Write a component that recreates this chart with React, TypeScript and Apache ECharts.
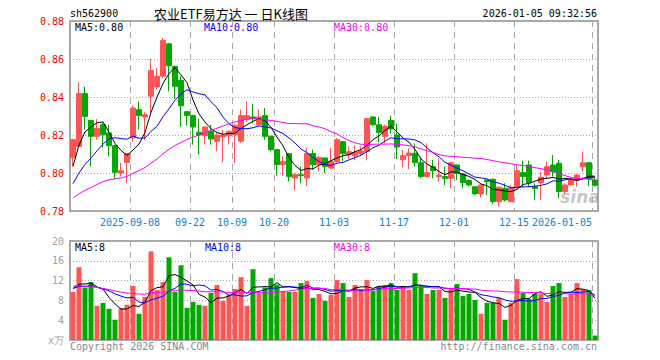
import React, { useEffect, useRef } from 'react';
import * as echarts from 'echarts';

const dates = [
  '2025-08-25','2025-08-26','2025-08-27','2025-08-28','2025-08-29',
  '2025-09-01','2025-09-02','2025-09-03','2025-09-04','2025-09-05',
  '2025-09-08','2025-09-09','2025-09-10','2025-09-11','2025-09-12',
  '2025-09-15','2025-09-16','2025-09-17','2025-09-18','2025-09-19',
  '2025-09-22','2025-09-23','2025-09-24','2025-09-25','2025-09-26',
  '2025-09-29','2025-09-30','2025-10-09','2025-10-10','2025-10-13',
  '2025-10-14','2025-10-15','2025-10-16','2025-10-17','2025-10-20',
  '2025-10-21','2025-10-22','2025-10-23','2025-10-24','2025-10-27',
  '2025-10-28','2025-10-29','2025-10-30','2025-10-31','2025-11-03',
  '2025-11-04','2025-11-05','2025-11-06','2025-11-07','2025-11-10',
  '2025-11-11','2025-11-12','2025-11-13','2025-11-14','2025-11-17',
  '2025-11-18','2025-11-19','2025-11-20','2025-11-21','2025-11-24',
  '2025-11-25','2025-11-26','2025-11-27','2025-11-28','2025-12-01',
  '2025-12-02','2025-12-03','2025-12-04','2025-12-05','2025-12-08',
  '2025-12-09','2025-12-10','2025-12-11','2025-12-12','2025-12-15',
  '2025-12-16','2025-12-17','2025-12-18','2025-12-19','2025-12-22',
  '2025-12-23','2025-12-24','2025-12-25','2025-12-26','2025-12-29',
  '2025-12-30','2025-12-31','2026-01-05'
];

const opens = [
  0.808,0.814,0.8418,0.8277,0.8193,0.8254,0.8211,0.8144,0.800,0.8056,
  0.8184,0.8333,0.8295,0.8404,0.8453,0.8509,0.868,0.8561,0.8488,0.8323,
  0.8302,0.8214,0.8196,0.8219,0.8167,0.8189,0.8196,0.8202,0.8167,0.8284,
  0.8295,0.8254,0.8302,0.8193,0.8123,0.8044,0.8102,0.7974,0.7991,0.7974,
  0.8102,0.8044,0.8079,0.8026,0.8061,0.8165,0.8096,0.8091,0.8102,0.8114,
  0.8295,0.8254,0.8193,0.8277,0.820,0.807,0.8091,0.8104,0.8054,0.7981,
  0.8033,0.7981,0.7981,0.7972,0.8042,0.7995,0.796,0.7928,0.789,0.7963,
  0.7967,0.7849,0.7919,0.7849,0.7925,0.8002,0.8042,0.7928,0.7949,0.7989,
  0.8042,0.8051,0.7902,0.7937,0.7963,0.8033,0.8054,0.7963
];

const closes = [
  0.8175,0.8418,0.8298,0.8193,0.8235,0.8202,0.8144,0.8004,0.8012,0.8102,
  0.8342,0.8302,0.8307,0.854,0.8509,0.8698,0.8565,0.8456,0.8354,0.8302,
  0.8242,0.820,0.8242,0.8179,0.820,0.820,0.8219,0.8249,0.8302,0.8302,
  0.8288,0.8295,0.8193,0.8123,0.8044,0.8061,0.7982,0.7991,0.7986,0.8102,
  0.8044,0.8082,0.8035,0.8061,0.8175,0.8102,0.8112,0.8109,0.8116,0.8286,
  0.8254,0.8214,0.8246,0.8232,0.8137,0.8091,0.8105,0.8054,0.7981,0.8002,
  0.8012,0.7989,0.7972,0.8054,0.7998,0.7949,0.7937,0.789,0.7937,0.7954,
  0.7849,0.7925,0.7858,0.7925,0.8012,0.7981,0.7949,0.7919,0.7977,0.8033,
  0.8007,0.7902,0.7937,0.7963,0.7989,0.8054,0.7972,0.7935
];

const lows = [
  0.8035,0.8135,0.8228,0.8035,0.8175,0.8132,0.8088,0.7968,0.7982,0.7947,
  0.8167,0.8228,0.8175,0.8307,0.844,0.850,0.843,0.839,0.8242,0.8249,
  0.8149,0.8096,0.8149,0.8149,0.8114,0.8056,0.8149,0.8053,0.8158,0.827,
  0.8263,0.8246,0.8175,0.8114,0.7986,0.7986,0.7956,0.7909,0.7947,0.7933,
  0.8018,0.8009,0.800,0.8021,0.8056,0.8061,0.8074,0.8067,0.8091,0.8067,
  0.8246,0.8161,0.8158,0.8207,0.8074,0.803,0.802,0.8033,0.7972,0.7977,
  0.7972,0.7954,0.7937,0.7919,0.7963,0.7919,0.7928,0.7884,0.7872,0.7884,
  0.7837,0.7823,0.785,0.7849,0.7919,0.7925,0.7925,0.7858,0.7858,0.7972,
  0.7981,0.7867,0.789,0.7932,0.7928,0.8007,0.7932,0.7928
];

const highs = [
  0.818,0.8477,0.8453,0.828,0.8284,0.8263,0.8254,0.8149,0.8053,0.8105,
  0.8354,0.8377,0.832,0.860,0.8553,0.871,0.8685,0.8565,0.851,0.8323,
  0.8307,0.8284,0.8246,0.8253,0.821,0.8228,0.8225,0.826,0.8333,0.8377,
  0.8365,0.8333,0.8342,0.8195,0.8125,0.8088,0.8105,0.800,0.8035,0.8132,
  0.8123,0.8091,0.8082,0.8132,0.8184,0.8168,0.814,0.8144,0.814,0.829,
  0.8298,0.8295,0.8254,0.8302,0.826,0.812,0.813,0.8156,0.8086,0.8156,
  0.8068,0.8077,0.8033,0.806,0.8044,0.7998,0.7967,0.793,0.7939,0.7967,
  0.797,0.7928,0.7946,0.7937,0.8042,0.8065,0.8065,0.7946,0.8007,0.806,
  0.8095,0.8068,0.7946,0.7977,0.7995,0.8112,0.8054,0.7977
];

// volume, unit: 万
const volumes = [
  9.7,14.7,10.6,11.7,6.9,7.5,6.3,4.1,6.4,7.1,
  10.9,5.3,8.7,17.9,10.1,11.7,16.7,9.7,15.1,6.5,
  7.7,7.1,6.9,9.5,11.1,7.9,9.1,10.3,12.7,6.9,
  14.3,9.4,10.6,12.5,11.2,9.9,9.7,9.7,11.5,11.9,
  8.5,9.3,7.9,9.1,12.1,11.5,8.7,11.1,10.3,12.1,
  9.9,10.9,11.1,11.5,10.1,10.6,10.1,13.5,10.9,9.3,
  10.1,10.1,8.5,10.5,11.3,8.9,9.3,8.1,5.3,7.5,
  7.5,8.5,4.1,7.5,12.3,9.5,8.3,9.3,9.3,7.7,
  10.9,11.5,8.7,9.3,11.5,10.3,10.1,0.9
];

// closes / volumes of the 29 sessions before the visible window (estimated from where the MA lines start)
const priorCloses = [
  0.775,0.775,0.775,0.775,0.775,
  0.7857,0.7857,0.7857,0.7857,0.7857,0.7857,0.7857,0.7857,0.7857,0.7857,
  0.7857,0.7857,0.7857,0.7857,0.7857,
  0.7853,0.7853,0.7853,0.7853,0.7853,
  0.786,0.795,0.806,0.813
];
const priorVolumes = [
  13.1,13.1,13.1,13.1,13.1,13.1,13.1,13.1,13.1,13.1,
  9.2,9.2,9.2,9.2,9.2,9.2,9.2,9.2,9.2,9.2,
  10.4,10.4,10.4,10.4,10.4,
  10.2,10.5,10.8,10.8
];

const tickDates = ['2025-09-08','2025-09-22','2025-10-09','2025-10-20','2025-11-03','2025-11-17','2025-12-01','2025-12-15','2026-01-05'];
const tickLabels = ['2025-09-08','09-22','10-09','10-20','11-03','11-17','12-01','12-15','2026-01-05'];

const mainLegend = ['MA5:0.80', 'MA10:0.80', 'MA30:0.80'];
const volLegend = ['MA5:8', 'MA10:8', 'MA30:8'];
const maPeriods = [5, 10, 30];
const maColors = ['#000000', '#0000ff', '#ff00ff'];

const UP = '#ff5555';
const DOWN = '#00a800';
const MONO = '"DejaVu Sans Mono", "Liberation Mono", monospace';

function movingAverage(values: number[], prior: number[], n: number, digits: number) {
  const all = prior.concat(values);
  const off = prior.length;
  return values.map((_, i) => {
    let s = 0;
    for (let k = off + i - n + 1; k <= off + i; k++) s += all[k];
    return +(s / n).toFixed(digits);
  });
}

export default function App() {
  const ref = useRef<HTMLDivElement>(null);
  useEffect(() => {
    if (!ref.current) return;
    const chart = echarts.init(ref.current, undefined, { renderer: 'svg' });
    const tickIdx = tickDates.map((d) => dates.indexOf(d));
    const lastIdx = tickIdx[tickIdx.length - 1];
    const showTick = (i: number) => tickIdx.indexOf(i) >= 0;

    const candleData = dates.map((_, i) => [opens[i], closes[i], lows[i], highs[i]]);
    const volData = volumes.map((v, i) => ({
      value: v,
      itemStyle: { color: closes[i] >= opens[i] ? UP : DOWN },
    }));

    const splitV = {
      show: true,
      interval: (i: number) => showTick(i),
      lineStyle: { color: '#a8a8a8', type: [6, 5] as any, width: 1 },
    };

    const priceMA = maPeriods.map((n, k) => ({
      type: 'line',
      name: 'MA' + n,
      xAxisIndex: 0,
      yAxisIndex: 0,
      data: movingAverage(closes, priorCloses, n, 4),
      symbol: 'none',
      silent: true,
      lineStyle: { color: maColors[k], width: 1 },
      z: 5,
    }));
    const volMA = maPeriods.map((n, k) => ({
      type: 'line',
      name: 'VMA' + n,
      xAxisIndex: 1,
      yAxisIndex: 1,
      data: movingAverage(volumes, priorVolumes, n, 2),
      symbol: 'none',
      silent: true,
      lineStyle: { color: maColors[k], width: 1 },
      z: 5,
    }));

    const text = (x: number, y: number, s: string, fill: string, align = 'left', font = `10px ${MONO}`) => ({
      type: 'text',
      x,
      y,
      silent: true,
      z: 100,
      style: {
        text: s,
        fill,
        font,
        align,
        verticalAlign: 'middle',
        textAlign: align,
        textVerticalAlign: 'middle',
      },
    });

    chart.setOption({
      animation: false,
      backgroundColor: '#ffffff',
      textStyle: { fontFamily: MONO },
      grid: [
        { left: 70, top: 21, width: 528, height: 190, show: true, borderColor: '#a8a8a8', borderWidth: 2, backgroundColor: 'transparent' },
        { left: 70, top: 241, width: 528, height: 99, show: true, borderColor: '#a8a8a8', borderWidth: 2, backgroundColor: 'transparent' },
      ],
      xAxis: [
        {
          type: 'category',
          gridIndex: 0,
          data: dates,
          boundaryGap: true,
          axisLine: { show: false },
          axisTick: { show: false },
          axisLabel: {
            show: true,
            interval: (i: number) => showTick(i),
            margin: 6,
            color: '#0e7fd1',
            fontSize: 10,
            fontFamily: MONO,
            formatter: (v: string, i: number) => {
              const k = tickIdx.indexOf(i);
              const label = k >= 0 ? tickLabels[k] : v;
              return i === lastIdx ? '{b|' + label + '}' : '{a|' + label + '}';
            },
            rich: {
              a: { padding: [0, 6, 0, 0], color: '#0e7fd1', fontSize: 10, fontFamily: MONO },
              b: { padding: [0, 66, 0, 0], color: '#0e7fd1', fontSize: 10, fontFamily: MONO },
            },
          },
          splitLine: splitV,
        },
        {
          type: 'category',
          gridIndex: 1,
          data: dates,
          boundaryGap: true,
          axisLine: { show: false },
          axisTick: { show: false },
          axisLabel: { show: false, interval: (i: number) => showTick(i) },
          splitLine: splitV,
        },
      ],
      yAxis: [
        {
          type: 'value',
          gridIndex: 0,
          min: 0.78,
          max: 0.88,
          interval: 0.02,
          axisLine: { show: false },
          axisTick: { show: false },
          axisLabel: {
            margin: 6,
            color: '#ff0000',
            fontSize: 10,
            fontFamily: MONO,
            formatter: (v: number) => v.toFixed(2),
          },
          splitLine: { show: true, lineStyle: { color: '#aaaaaa', type: [1, 2] as any, width: 1 } },
        },
        {
          type: 'value',
          gridIndex: 1,
          min: 0,
          max: 20,
          interval: 4,
          axisLine: { show: false },
          axisTick: { show: false },
          axisLabel: {
            margin: 6,
            color: '#a0a0a0',
            fontSize: 10,
            fontFamily: MONO,
            formatter: (v: number) => (v === 0 ? 'x万' : String(v)),
          },
          splitLine: { show: true, lineStyle: { color: '#aaaaaa', type: [1, 2] as any, width: 1 } },
        },
      ],
      series: [
        {
          type: 'candlestick',
          xAxisIndex: 0,
          yAxisIndex: 0,
          data: candleData,
          barWidth: 5,
          silent: true,
          itemStyle: { color: UP, color0: DOWN, borderColor: UP, borderColor0: DOWN, borderWidth: 1 },
          z: 3,
        },
        ...priceMA,
        {
          type: 'bar',
          xAxisIndex: 1,
          yAxisIndex: 1,
          data: volData,
          barWidth: 5,
          silent: true,
          z: 3,
        },
        ...volMA,
      ],
      graphic: [
        text(70, 13, 'sh562900', '#000000'),
        text(231, 13, '农业ETF易方达 一 日K线图', '#000000', 'center', '13px "Noto Sans CJK SC", sans-serif'),
        text(597, 13, '2026-01-05 09:32:56', '#000000', 'right'),
        text(75, 27, mainLegend[0], maColors[0]),
        text(204, 27, mainLegend[1], maColors[1]),
        text(334, 27, mainLegend[2], maColors[2]),
        text(75, 247, volLegend[0], maColors[0]),
        text(205, 247, volLegend[1], maColors[1]),
        text(334, 247, volLegend[2], maColors[2]),
        text(70, 346, 'Copyright 2026 SINA.COM', '#888888'),
        text(597, 346, 'http://finance.sina.com.cn', '#888888', 'right'),
        text(580, 197, 'sina', 'rgba(150,150,150,0.55)', 'center', 'italic bold 17px "DejaVu Sans", sans-serif'),
      ],
    });
    return () => chart.dispose();
  }, []);
  return <div ref={ref} style={{ position: 'fixed', left: 0, top: 0, width: 660, height: 360 }} />;
}
